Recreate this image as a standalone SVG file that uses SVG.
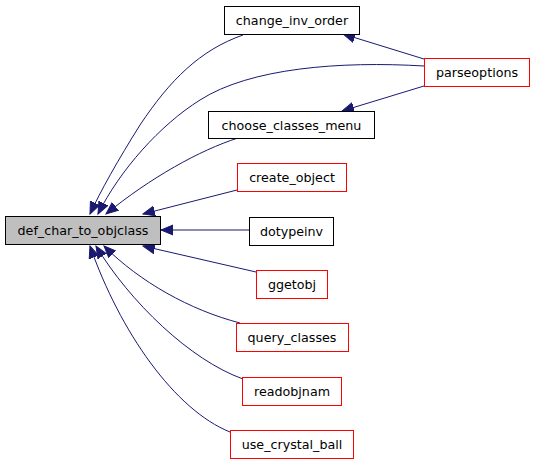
<svg xmlns="http://www.w3.org/2000/svg" width="536" height="464" viewBox="0 0 536 464">
<defs>
<style>
.n rect{fill:#ffffff;stroke:#000000;stroke-width:1}
.n.r rect{stroke:#ff0000}
.n.m rect{fill:#bfbfbf}
.n text{font-family:"DejaVu Sans",sans-serif;font-size:12.7px;fill:#000000;text-anchor:middle}
.e path{fill:none;stroke:#191970;stroke-width:1}
</style>
<marker id="ah" markerUnits="userSpaceOnUse" markerWidth="14" markerHeight="12" refX="12" refY="5" orient="auto" viewBox="0 0 14 10">
<path d="M0,0 L12,5 L0,10 Z" fill="#191970" stroke="#191970"/>
</marker>
</defs>
<rect width="536" height="464" fill="#ffffff"/>
<g id="edges" class="e">
<path d="M243,35 C200,50 170,80 140,125 C118,160 100,192 90,214" marker-end="url(#ah)"/>
<path d="M424,66 C340,61 250,68 200,100 C160,125 120,170 98,214" marker-end="url(#ah)"/>
<path d="M238,138 C200,150 150,178 106,214" marker-end="url(#ah)"/>
<path d="M237,190 L143,214" marker-end="url(#ah)"/>
<path d="M249,230 L161,230" marker-end="url(#ah)"/>
<path d="M256,272 L143,246" marker-end="url(#ah)"/>
<path d="M240,323 C190,310 140,282 104,246" marker-end="url(#ah)"/>
<path d="M243,379 C190,360 130,302 96,246" marker-end="url(#ah)"/>
<path d="M230,432 C175,410 120,332 90,246" marker-end="url(#ah)"/>
<path d="M424,59 L343,34" marker-end="url(#ah)"/>
<path d="M424,86 L342,111" marker-end="url(#ah)"/>
</g>
<g id="def_char_to_objclass" class="n m"><rect x="5.5" y="216.5" width="155" height="28"/><text x="83" y="235">def_char_to_objclass</text></g>
<g id="change_inv_order" class="n"><rect x="224.5" y="6.5" width="135" height="28"/><text x="292" y="25">change_inv_order</text></g>
<g id="parseoptions" class="n r"><rect x="424.5" y="58.5" width="105" height="28"/><text x="477" y="77">parseoptions</text></g>
<g id="choose_classes_menu" class="n"><rect x="208.5" y="111.5" width="166" height="27"/><text x="291.5" y="130">choose_classes_menu</text></g>
<g id="create_object" class="n r"><rect x="237.5" y="163.5" width="109" height="28"/><text x="292" y="182">create_object</text></g>
<g id="dotypeinv" class="n"><rect x="249.5" y="217.5" width="84" height="28"/><text x="291.5" y="236">dotypeinv</text></g>
<g id="ggetobj" class="n r"><rect x="256.5" y="270.5" width="71" height="28"/><text x="292" y="289">ggetobj</text></g>
<g id="query_classes" class="n r"><rect x="236.5" y="323.5" width="112" height="28"/><text x="292" y="342">query_classes</text></g>
<g id="readobjnam" class="n r"><rect x="242.5" y="377.5" width="99" height="28"/><text x="292" y="396">readobjnam</text></g>
<g id="use_crystal_ball" class="n r"><rect x="230.5" y="430.5" width="123" height="28"/><text x="292" y="449">use_crystal_ball</text></g>
</svg>
